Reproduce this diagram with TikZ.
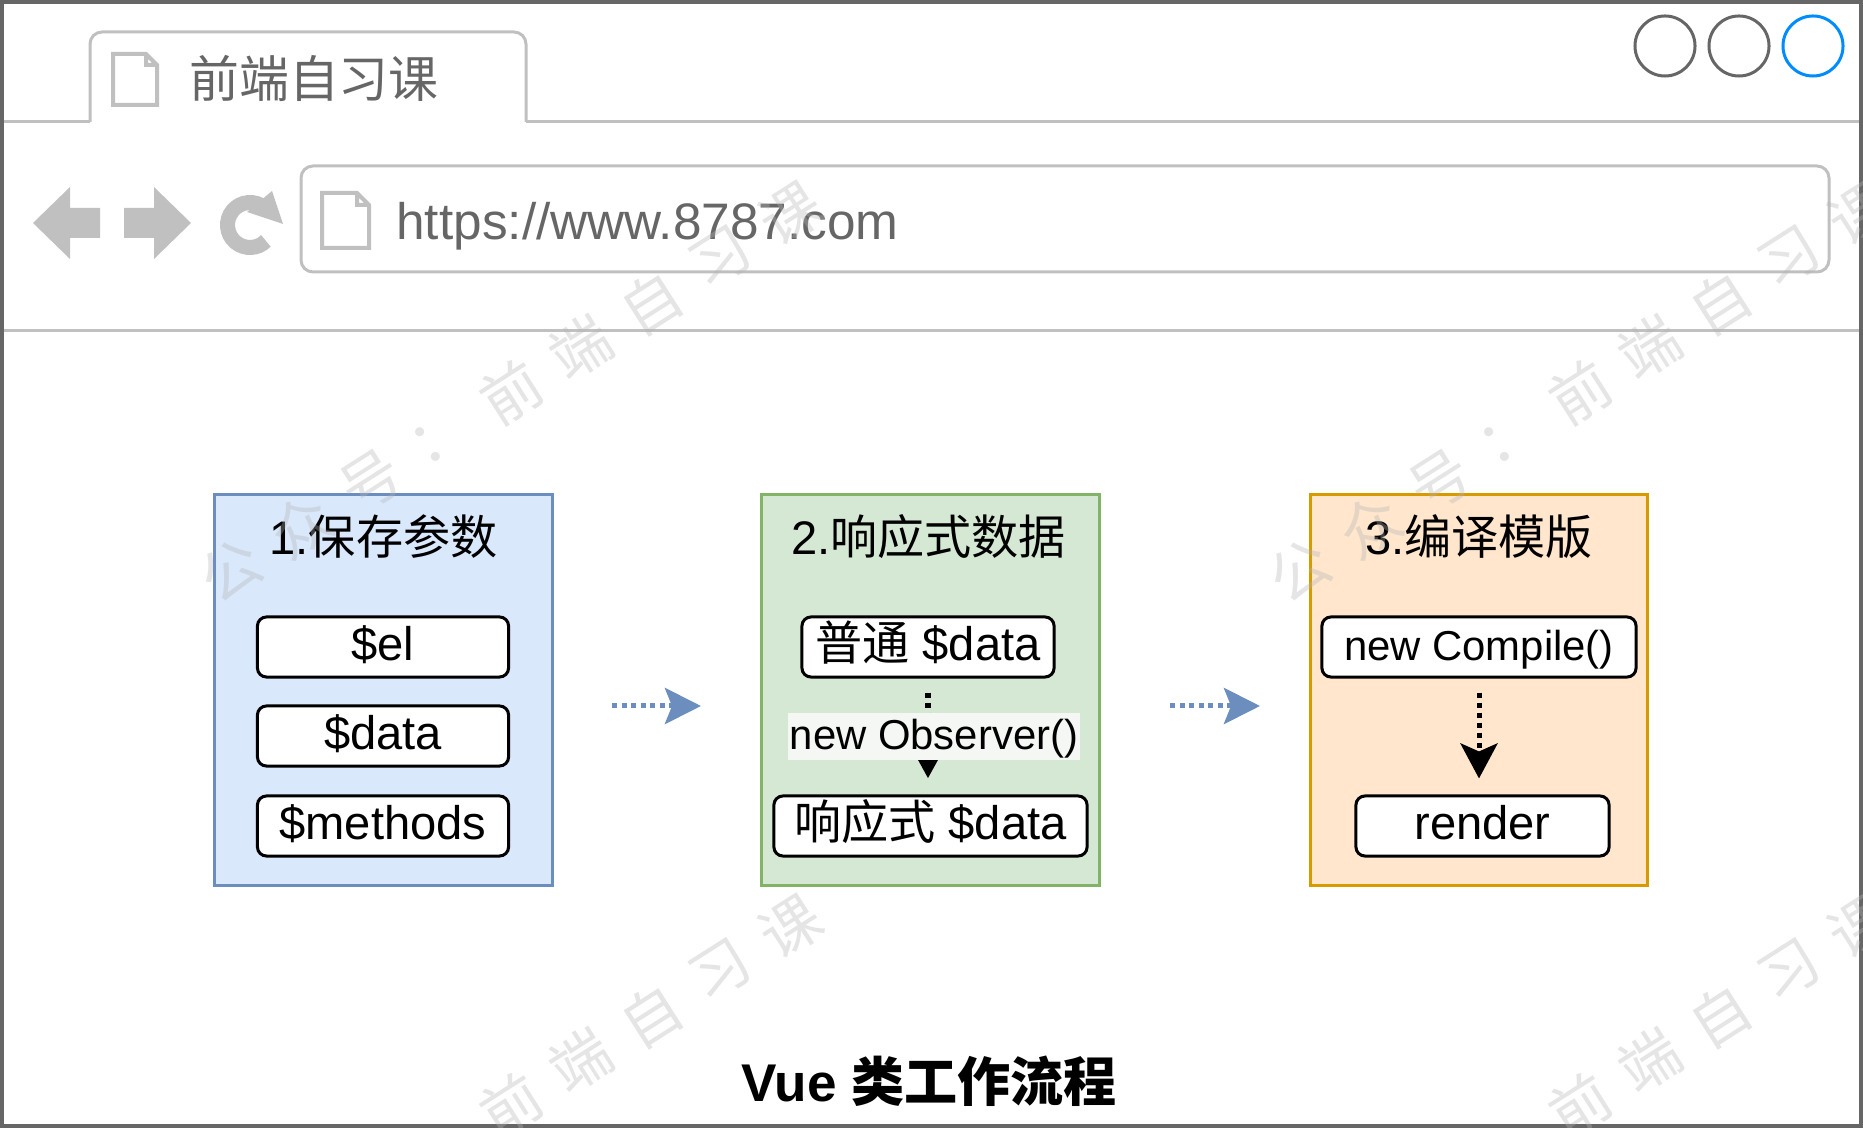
\documentclass[tikz,border=0pt]{standalone}
\usepackage{fontspec}
\setmainfont{Liberation Sans}
\newfontfamily\cjk{Noto Sans CJK SC}
\usetikzlibrary{arrows.meta}
\definecolor{frame}{HTML}{666666}
\definecolor{chrome}{HTML}{C0C0C0}
\definecolor{winblue}{HTML}{008CFF}
\definecolor{bluefill}{HTML}{DAE8FC}
\definecolor{blueline}{HTML}{6C8EBF}
\definecolor{greenfill}{HTML}{D5E8D4}
\definecolor{greenline}{HTML}{82B366}
\definecolor{orangefill}{HTML}{FFE6CC}
\definecolor{orangeline}{HTML}{D79B00}
\definecolor{labelbg}{HTML}{F4F7F4}
\definecolor{wmgray}{HTML}{B4B4B4}
\tikzset{
  panel/.style={draw, line width=0.03cm, minimum width=3.37cm, minimum height=3.9cm, inner sep=0pt},
  paneltitle/.style={anchor=base, font=\fontsize{13.4pt}{16pt}\selectfont},
  item/.style={draw=black, fill=white, rounded corners=0.09cm, line width=0.03cm, minimum height=0.6cm, inner sep=0pt, text height=12pt, text depth=4.6pt, font=\fontsize{13.4pt}{16pt}\selectfont},
  smallfont/.style={font=\fontsize{11.9pt}{14pt}\selectfont},
  flow/.style={blueline, line width=0.05cm, dash pattern=on 0.05cm off 0.045cm, -{Stealth[length=0.36cm, width=0.36cm, inset=0.07cm]}},
  pagefile/.style={chrome, line width=0.04cm, line join=miter},
  wm/.style={inner sep=0pt, rotate=32.5, text=wmgray, text opacity=0.35, font=\cjk\fontsize{17pt}{17pt}\selectfont}
}
\begin{document}
\begin{tikzpicture}[x=0.01cm,y=-0.01cm]
\useasboundingbox (0,0) rectangle (1863,1128);
\draw [chrome, line width=0.03cm, fill=white, rounded corners=0.12cm] (90,122) -- (90,32) -- (526,32) -- (526,122);
\draw [chrome, line width=0.03cm] (0,122) -- (90,122) (526,122) -- (1863,122);
\draw [chrome, line width=0.03cm] (0,331) -- (1863,331);
\draw [chrome, line width=0.03cm, rounded corners=0.12cm] (301,166) rectangle (1829,272);
\draw [frame, line width=0.04cm] (2,2) rectangle (1861,1126);
\draw [pagefile] (113,54) -- (146,54) -- (157,65) -- (157,105) -- (113,105) -- cycle (146,54) -- (146,65) -- (157,65);
\draw [pagefile] (322,193) -- (357,193) -- (369,205) -- (369,248) -- (322,248) -- cycle (357,193) -- (357,205) -- (369,205);
\fill [chrome] (33,223) -- (70,187) -- (70,208) -- (100,208) -- (100,238) -- (70,238) -- (70,259) -- cycle;
\fill [chrome] (191,223) -- (154,187) -- (154,208) -- (124,208) -- (124,238) -- (154,238) -- (154,259) -- cycle;
\draw [chrome, line width=0.15cm] (250,225) ++(-50:22.5) arc [start angle=-50, end angle=-315, radius=22.5];
\fill [chrome] (272,191) -- (283,224) -- (247,212) -- cycle;
\draw [frame, line width=0.03cm] (1665,46) circle [radius=0.3cm] (1739,46) circle [radius=0.3cm];
\draw [winblue, line width=0.03cm] (1813,46) circle [radius=0.3cm];
\node [text=frame, font=\cjk\fontsize{14.2pt}{17pt}\selectfont] (tabtitle) at (314,78) {前端自习课};
\node [anchor=base west, text=frame, font=\fontsize{14.6pt}{17pt}\selectfont] (url) at (384,240) {https://www.8787.com};
\node [panel, draw=blueline, fill=bluefill] (save) at (383.5,690) {};
\node [panel, draw=greenline, fill=greenfill] (reactive) at (930.5,690) {};
\node [panel, draw=orangeline, fill=orangefill] (compile) at (1479,690) {};
\node [paneltitle] (savetitle) at (383.5,555) {1.{\cjk 保存参数}};
\node [paneltitle] (reactivetitle) at (928.5,555) {2.{\cjk 响应式数据}};
\node [paneltitle] (compiletitle) at (1479,555) {3.{\cjk 编译模版}};
\node [item, minimum width=2.51cm] (el) at (383,647) {\$el};
\node [item, minimum width=2.51cm] (data) at (383,736) {\$data};
\node [item, minimum width=2.51cm] (methods) at (383,826) {\$methods};
\node [item, minimum width=2.52cm] (plaindata) at (928,647) {{\cjk 普通} \$data};
\node [item, minimum width=3.13cm] (reactdata) at (930.5,826) {{\cjk 响应式} \$data};
\node [item, minimum width=3.14cm, smallfont] (newcompile) at (1479,647) {new Compile()};
\node [item, minimum width=2.53cm] (render) at (1482.5,826) {render};
\draw [line width=0.06cm, dash pattern=on 0.05cm off 0.05cm, -{Triangle[length=0.2cm, width=0.2cm]}, shorten <=0.14cm, shorten >=0.16cm] (plaindata.south) -- (plaindata.south |- reactdata.north) node [midway, xshift=0.06cm, fill=labelbg, inner xsep=0.02cm, inner ysep=0pt, text height=10.5pt, text depth=2.9pt, smallfont] (observer) {new Observer()};
\draw [line width=0.05cm, dash pattern=on 0.05cm off 0.05cm, -{Stealth[length=0.35cm, width=0.37cm, inset=0.08cm]}, shorten <=0.14cm, shorten >=0.16cm] (newcompile.south) -- (newcompile.south |- render.north);
\coordinate (flow1start) at (612,706);
\coordinate (flow1end) at (701,706);
\coordinate (flow2start) at (1170,706);
\coordinate (flow2end) at (1260,706);
\draw [flow] (flow1start) -- (flow1end);
\draw [flow] (flow2start) -- (flow2end);
\node [anchor=base, font=\fontsize{15.1pt}{18pt}\selectfont\bfseries] (caption) at (929,1101) {Vue {\cjk 类工作流程}};
\foreach \cx/\cy [count=\n] in {511/392, 1580/392, 511/1105, 1580/1105}
  \foreach \ch [count=\k] in {公,众,号,：,前,端,自,习,课}
    \node [wm] (wm\n-\k) at ({\cx+(\k-5)*70}, {\cy-(\k-5)*44.6}) {\ch};
\end{tikzpicture}
\end{document}
